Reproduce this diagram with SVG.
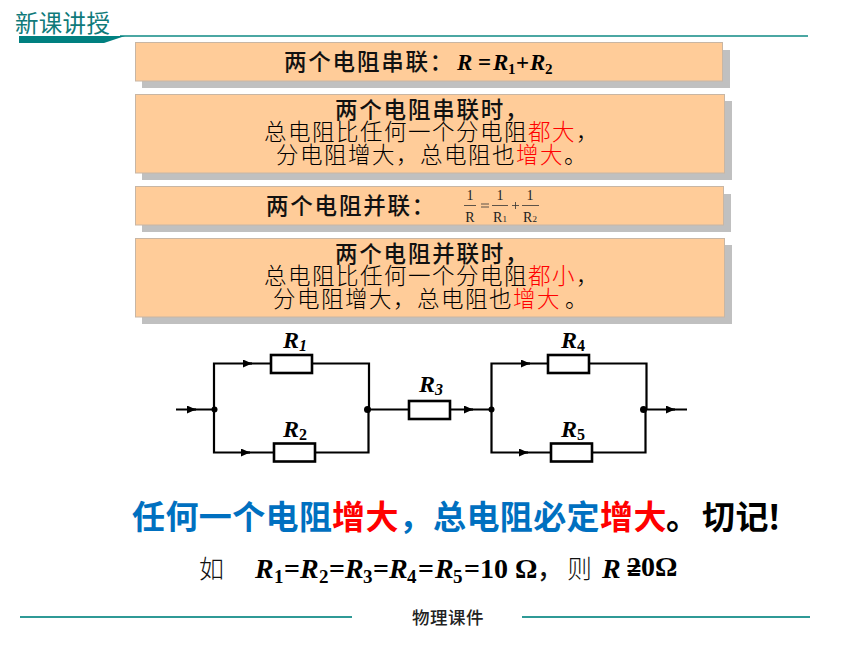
<svg xmlns="http://www.w3.org/2000/svg" width="860" height="645" viewBox="0 0 860 645">
<style>
text{font-family:"Noto Sans CJK SC","Liberation Sans",sans-serif;white-space:pre}
.shadow{fill:#c0c0c0}
.box{fill:#ffcc99;stroke:#c8b6a4;stroke-width:1}
.head{font-size:22.500px;font-weight:500;fill:#111;letter-spacing:1.800px}
.body{font-size:22.500px;font-weight:300;fill:#000;letter-spacing:1.500px}
.red{fill:#ff0000}
.m{font-family:"Liberation Serif",serif;font-weight:700;font-style:italic;fill:#000}
.n{font-family:"Liberation Serif",serif;font-weight:700;font-style:normal;fill:#000}
.f{font-family:"Liberation Serif",serif;font-size:14px;fill:#222;text-anchor:middle}
.f2{font-size:9px}
.wire{fill:none;stroke:#000;stroke-width:2.200}
.res{fill:#fff;stroke:#000;stroke-width:2.600}
.big{font-size:33px;font-weight:700;fill:#0070c0}
.rule{stroke:#2f9a96;stroke-width:2}
</style>
<defs>
<marker id="a" markerUnits="userSpaceOnUse" markerWidth="10" markerHeight="8" refX="9" refY="4" orient="auto"><path d="M0 0L9 4L0 8Z" fill="#000"/></marker>
</defs>

<g id="header">
<text x="15" y="32" font-size="23.500" fill="#0f7a7a" letter-spacing=".3">新课讲授</text>
<path d="M120 36H808" stroke="#0f8a84" stroke-width="1.400"/>
<path d="M19 36H125L104 43H19Z" fill="#008080"/>
</g>

<g id="box1">
<rect class="shadow" x="142" y="50" width="588" height="38"/>
<rect class="box" x="135.500" y="42.500" width="587" height="38.500"/>
<text class="head" x="284" y="70">两个电阻串联&#xFF1A;</text>
<text class="m" font-size="23" y="70"><tspan x="457">R</tspan><tspan x="478" class="n">=</tspan><tspan x="493">R</tspan><tspan x="508" dy="4" font-size="15" class="n">1</tspan><tspan x="516" dy="-4" class="n">+</tspan><tspan x="530">R</tspan><tspan x="545" dy="4" font-size="15" class="n">2</tspan></text>
</g>

<g id="box2">
<rect class="shadow" x="142" y="101" width="590" height="79"/>
<rect class="box" x="135.500" y="94.500" width="589" height="78.500"/>
<text class="head" x="335" y="117.500">两个电阻串联时&#xFF0C;</text>
<text class="body" x="264" y="140">总电阻比任何一个分电阻<tspan class="red">都大</tspan>&#xFF0C;</text>
<text class="body" x="276" y="162.500">分电阻增大&#xFF0C;总电阻也<tspan class="red">增大</tspan>&#x3002;</text>
</g>

<g id="box3">
<rect class="shadow" x="142" y="194" width="589" height="38"/>
<rect class="box" x="135.500" y="186.500" width="588" height="38.500"/>
<text class="head" x="266" y="214">两个电阻并联&#xFF1A;</text>
<path d="M464 205.500H476M492 205.500H508M522 205.500H539" stroke="#333" stroke-width=".8" fill="none"/>
<path d="M481 204H489M481 207H489M512 205.500H519M515.500 202V209" stroke="#333" stroke-width=".8" fill="none"/>
<text class="f" x="470" y="200">1</text>
<text class="f" x="500" y="200">1</text>
<text class="f" x="530" y="200">1</text>
<text class="f" x="470" y="221.500">R</text>
<text class="f" x="500" y="221.500">R<tspan class="f2">1</tspan></text>
<text class="f" x="530" y="221.500">R<tspan class="f2">2</tspan></text>
</g>

<g id="box4">
<rect class="shadow" x="142" y="245" width="590" height="79"/>
<rect class="box" x="135.500" y="238.500" width="589" height="78.500"/>
<text class="head" x="335" y="261.500">两个电阻并联时&#xFF0C;</text>
<text class="body" x="264" y="284">总电阻比任何一个分电阻<tspan class="red">都小</tspan>&#xFF0C;</text>
<text class="body" x="273" y="306.500">分电阻增大&#xFF0C;总电阻也<tspan class="red">增大</tspan><tspan x="565">&#x3002;</tspan></text>
</g>

<g id="connectors">
<path class="wire" d="M176 409.500H214M214 409.500V363.500H271M312 363.500H369V409.500M214 409.500V452.500H274M315 452.500H368.500V409.500M368 409.500H409M450 409.500H491.500M491.500 409.500V363.500H548M589 363.500H646.500V409.500M491.500 409.500V452.500H551M592 452.500H645.500V409.500M644 409.500H687"/>
<path class="wire" d="M187 409.500H196" marker-end="url(#a)"/>
<path class="wire" d="M243 363.500H252" marker-end="url(#a)"/>
<path class="wire" d="M241 452.500H250" marker-end="url(#a)"/>
<path class="wire" d="M464 409.500H473" marker-end="url(#a)"/>
<path class="wire" d="M521 363.500H530" marker-end="url(#a)"/>
<path class="wire" d="M519 452.500H528" marker-end="url(#a)"/>
<path class="wire" d="M666 409.500H675" marker-end="url(#a)"/>
<circle cx="214.500" cy="409.500" r="3"/>
<circle cx="367.500" cy="409.500" r="3.500"/>
<circle cx="491.500" cy="409.500" r="3"/>
<circle cx="643.500" cy="409.500" r="3.500"/>
</g>

<g id="R1"><rect class="res" x="271" y="355" width="41" height="18"/><text class="m" font-size="24" x="283" y="348">R<tspan font-size="16" dy="3">1</tspan></text></g>
<g id="R2"><rect class="res" x="274" y="443.500" width="41" height="18"/><text class="m" font-size="24" x="283" y="437">R<tspan font-size="16" dy="3" class="n">2</tspan></text></g>
<g id="R3"><rect class="res" x="409" y="401" width="41" height="18"/><text class="m" font-size="24" x="419" y="392">R<tspan font-size="16" dy="3">3</tspan></text></g>
<g id="R4"><rect class="res" x="548" y="355" width="41" height="18"/><text class="m" font-size="24" x="561" y="348">R<tspan font-size="16" dy="3" class="n">4</tspan></text></g>
<g id="R5"><rect class="res" x="551" y="443.500" width="41" height="18"/><text class="m" font-size="24" x="561" y="437">R<tspan font-size="16" dy="3" class="n">5</tspan></text></g>

<g id="statement">
<text class="big" y="529"><tspan x="132" letter-spacing=".4">任何一个电阻</tspan><tspan x="332" letter-spacing=".4" class="red">增大</tspan><tspan x="399">&#xFF0C;</tspan><tspan x="433" letter-spacing=".4">总电阻必定</tspan><tspan x="600" letter-spacing=".4" class="red">增大</tspan><tspan x="666" fill="#000">&#x3002;</tspan><tspan x="702" fill="#000" letter-spacing=".4">切记</tspan><tspan x="766" fill="#000">&#xFF01;</tspan></text>
</g>

<g id="formula">
<text x="199" y="578" font-size="25" font-weight="300" fill="#111">如</text>
<text class="m" font-size="28" y="578"><tspan x="255">R</tspan><tspan x="274" dy="5" font-size="19" class="n">1</tspan><tspan x="284" dy="-5" class="n">=</tspan><tspan x="300">R</tspan><tspan x="319" dy="5" font-size="19" class="n">2</tspan><tspan x="329" dy="-5" class="n">=</tspan><tspan x="345">R</tspan><tspan x="363" dy="5" font-size="19" class="n">3</tspan><tspan x="373" dy="-5" class="n">=</tspan><tspan x="389">R</tspan><tspan x="407" dy="5" font-size="19" class="n">4</tspan><tspan x="418" dy="-5" class="n">=</tspan><tspan x="435">R</tspan><tspan x="453" dy="5" font-size="19" class="n">5</tspan><tspan x="464" dy="-5" class="n">=</tspan><tspan x="480" class="n">10</tspan><tspan x="515" class="n">Ω</tspan></text>
<text x="537" y="578" font-size="25" font-weight="500" fill="#111">&#xFF0C;</text>
<text x="567" y="578" font-size="25" font-weight="300" fill="#111">则</text>
<text class="m" font-size="28" x="602" y="578">R</text>
<text class="n" font-size="28" x="626" y="578">=</text>
<text class="n" font-size="28" x="627" y="576">20Ω</text>
</g>

<g id="footer">
<path class="rule" d="M20 617H352M522 617H810"/>
<text x="412" y="624" font-size="17.500" font-weight="500" fill="#222" letter-spacing=".5">物理课件</text>
</g>
</svg>
